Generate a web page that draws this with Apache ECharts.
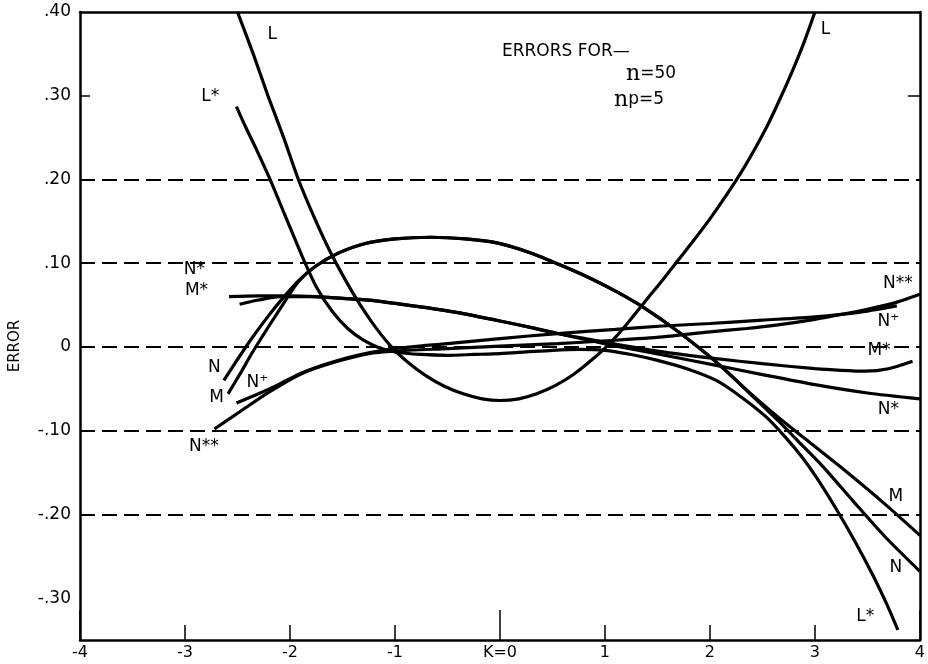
<!DOCTYPE html>
<html>
<head>
<meta charset="utf-8">
<script src="https://cdn.jsdelivr.net/npm/echarts@6/dist/echarts.min.js"></script>
<style>
html,body{margin:0;padding:0;background:#fff;}
#c{width:928px;height:664px;}
</style>
</head>
<body>
<div id="c"></div>
<script>
// ---- axis ticks / labels ----
const xTickValues = [-4, -3, -2, -1, 0, 1, 2, 3, 4];
const xTickLabels = ['-4', '-3', '-2', '-1', 'K=0', '1', '2', '3', '4'];
const yTickValues = [-0.3, -0.2, -0.1, 0, 0.1, 0.2, 0.3, 0.4];
const yTickLabels = ['-.30', '-.20', '-.10', '0', '.10', '.20', '.30', '.40'];
const dashedLevels = [0.2, 0.1, 0, -0.1, -0.2];

// ---- curves [K, error] ----
const curveL = [[-2.50,0.40],[-2.35,0.350],[-2.21,0.30],[-2.06,0.250],[-1.92,0.20],[-1.77,0.155],[-1.63,0.117],[-1.49,0.084],[-1.35,0.054],[-1.20,0.026],[-1.04,0.001],[-0.88,-0.018],[-0.71,-0.034],[-0.53,-0.047],[-0.35,-0.056],[-0.17,-0.062],[0.0,-0.064],[0.18,-0.062],[0.35,-0.056],[0.53,-0.046],[0.71,-0.032],[0.87,-0.016],[1.02,0.001],[1.20,0.026],[1.40,0.057],[1.55,0.080],[1.70,0.104],[1.85,0.128],[2.0,0.153],[2.15,0.180],[2.3,0.209],[2.43,0.237],[2.55,0.265],[2.67,0.297],[2.79,0.331],[2.90,0.365],[3.0,0.40]];
const curveLstar = [[-2.51,0.287],[-2.42,0.262],[-2.32,0.236],[-2.20,0.203],[-2.05,0.158],[-1.89,0.110],[-1.75,0.072],[-1.60,0.043],[-1.45,0.022],[-1.30,0.008],[-1.15,-0.001],[-1.0,-0.006],[-0.75,-0.009],[-0.5,-0.010],[-0.25,-0.009],[0,-0.008],[0.25,-0.006],[0.5,-0.004],[0.75,-0.003],[1.0,-0.004],[1.25,-0.009],[1.5,-0.016],[1.78,-0.026],[2.06,-0.040],[2.30,-0.060],[2.53,-0.083],[2.72,-0.108],[2.88,-0.132],[3.01,-0.155],[3.20,-0.193],[3.38,-0.232],[3.55,-0.272],[3.68,-0.306],[3.79,-0.338]];
const curveN = [[-2.63,-0.040],[-2.5,-0.015],[-2.36,0.011],[-2.2,0.038],[-2.05,0.061],[-1.92,0.079],[-1.75,0.097],[-1.54,0.112],[-1.3,0.123],[-1.0,0.129],[-0.66,0.131],[-0.33,0.129],[-0.02,0.124],[0.3,0.112],[0.61,0.096],[0.86,0.082],[1.11,0.066],[1.37,0.047],[1.68,0.020],[2.06,-0.018],[2.4,-0.058],[2.65,-0.088],[2.82,-0.110],[3.07,-0.142],[3.37,-0.185],[3.67,-0.227],[4.0,-0.268]];
const curveM = [[-2.59,-0.056],[-2.47,-0.031],[-2.36,-0.007],[-2.2,0.025],[-2.05,0.054],[-1.92,0.078],[-1.75,0.097],[-1.54,0.112],[-1.3,0.123],[-1.0,0.129],[-0.66,0.131],[-0.33,0.129],[-0.02,0.124],[0.3,0.112],[0.61,0.096],[0.86,0.082],[1.11,0.066],[1.37,0.047],[1.68,0.020],[2.06,-0.018],[2.4,-0.057],[2.65,-0.084],[2.91,-0.110],[3.26,-0.145],[3.67,-0.188],[4.0,-0.225]];
const curveNstar = [[-2.58,0.060],[-2.3,0.061],[-2.0,0.061],[-1.75,0.060],[-1.5,0.058],[-1.25,0.056],[-1.0,0.052],[-0.7,0.047],[-0.4,0.041],[0.0,0.031],[0.3,0.023],[0.55,0.016],[0.85,0.008],[1.11,0.001],[1.49,-0.008],[2.06,-0.022],[2.5,-0.033],[3.0,-0.045],[3.5,-0.055],[4.0,-0.062]];
const curveMstar = [[-2.48,0.051],[-2.3,0.056],[-2.1,0.060],[-1.8,0.060],[-1.5,0.058],[-1.25,0.056],[-1.0,0.052],[-0.7,0.047],[-0.4,0.041],[0.0,0.031],[0.3,0.023],[0.55,0.016],[0.85,0.009],[1.11,0.003],[1.5,-0.005],[2.06,-0.014],[2.5,-0.020],[3.0,-0.026],[3.25,-0.028],[3.48,-0.029],[3.7,-0.026],[3.93,-0.017]];
const curveNplus = [[-2.51,-0.067],[-2.3,-0.056],[-2.11,-0.045],[-1.89,-0.031],[-1.57,-0.017],[-1.25,-0.007],[-1.0,-0.002],[-0.5,0.004],[0.0,0.010],[0.55,0.016],[1.1,0.021],[1.55,0.025],[2.0,0.028],[2.5,0.032],[3.0,0.036],[3.4,0.041],[3.78,0.049]];
const curveN2star = [[-2.72,-0.098],[-2.45,-0.075],[-2.2,-0.054],[-1.89,-0.032],[-1.57,-0.018],[-1.25,-0.008],[-1.0,-0.005],[-0.5,-0.002],[0,0.001],[0.55,0.004],[1.1,0.008],[1.55,0.012],[2.0,0.018],[2.35,0.022],[2.63,0.026],[3.0,0.033],[3.26,0.039],[3.5,0.045],[3.74,0.052],[4.0,0.063]];

// ---- curve name labels: [K, error, text] ----
const curveLabels = [
  [-2.17, 0.373, 'L'], [3.10, 0.379, 'L'], [-2.76, 0.299, 'L*'],
  [-2.91, 0.092, 'N*'], [-2.89, 0.067, 'M*'], [-2.72, -0.025, 'N'],
  [-2.70, -0.060, 'M'], [-2.31, -0.042, 'N\u207A'], [-2.82, -0.119, 'N**'],
  [3.79, 0.076, 'N**'], [3.70, 0.030, 'N\u207A'], [3.61, -0.004, 'M*'],
  [3.70, -0.075, 'N*'], [3.77, -0.179, 'M'], [3.77, -0.263, 'N'], [3.48, -0.322, 'L*']
];

const FONT = 'DejaVu Sans';
const chart = echarts.init(document.getElementById('c'), null, {renderer: 'canvas'});

function curve(data) {
  return {
    type: 'line', data: data, smooth: 0.25, showSymbol: false, symbol: 'none',
    clip: true, silent: true,
    lineStyle: {color: '#000', width: 3.2}, z: 5
  };
}

const series = [
  curve(curveL), curve(curveLstar), curve(curveN), curve(curveM),
  curve(curveNstar), curve(curveMstar), curve(curveNplus), curve(curveN2star),
  {
    type: 'line', data: [], silent: true,
    markLine: {
      silent: true, symbol: 'none', label: {show: false},
      lineStyle: {color: '#000', width: 2, type: [15, 7]},
      data: dashedLevels.map(v => ({yAxis: v}))
    }
  },
  {
    type: 'scatter', symbolSize: 0, silent: true, z: 10,
    data: curveLabels.map(l => ({value: [l[0], l[1]], name: l[2]})),
    itemStyle: {color: '#000', opacity: 1},
    label: {
      show: true, position: 'inside', formatter: p => p.name,
      color: '#000', textBorderWidth: 0, fontFamily: FONT, fontSize: 17
    }
  }
];

const axisLineStyle = {color: '#000', width: 2.5};

const option = {
  animation: false,
  backgroundColor: '#fff',
  grid: {left: 80, right: 3, top: 12, bottom: 24, containLabel: false},
  xAxis: [
    {
      type: 'value', min: -4, max: 4, interval: 1, position: 'bottom',
      axisLine: {show: true, onZero: false, lineStyle: axisLineStyle},
      axisTick: {show: true, inside: true, length: 15, lineStyle: {color: '#000', width: 1.5}},
      axisLabel: {
        color: '#000', fontFamily: FONT, fontSize: 16, margin: 5,
        formatter: v => { const i = xTickValues.indexOf(Math.round(v)); return i >= 0 ? xTickLabels[i] : ''; }
      },
      splitLine: {show: false}
    },
    {
      type: 'value', min: -4, max: 4, position: 'top',
      axisLine: {show: true, onZero: false, lineStyle: axisLineStyle},
      axisTick: {show: false}, axisLabel: {show: false}, splitLine: {show: false}
    },
    {
      type: 'value', min: -4, max: 4, interval: 4, position: 'bottom',
      axisLine: {show: false, onZero: false},
      axisTick: {show: true, inside: true, length: 30, lineStyle: {color: '#000', width: 1.5}},
      axisLabel: {show: false}, splitLine: {show: false}
    }
  ],
  yAxis: [
    {
      type: 'value', min: -0.35, max: 0.40, position: 'left',
      axisLine: {show: true, onZero: false, lineStyle: axisLineStyle},
      axisTick: {show: true, inside: true, length: 10, customValues: [0.3], lineStyle: {color: '#000', width: 1.5}},
      axisLabel: {
        color: '#000', fontFamily: FONT, fontSize: 17, margin: 9,
        customValues: yTickValues,
        formatter: v => {
          let best = -1, d = 1e9;
          yTickValues.forEach((t, i) => { if (Math.abs(t - v) < d) { d = Math.abs(t - v); best = i; } });
          return d < 1e-6 ? yTickLabels[best] : '';
        }
      },
      splitLine: {show: false}
    },
    {
      type: 'value', min: -0.35, max: 0.40, position: 'right',
      axisLine: {show: true, onZero: false, lineStyle: axisLineStyle},
      axisTick: {show: true, inside: true, length: 12, customValues: [0.3], lineStyle: {color: '#000', width: 1.5}},
      axisLabel: {show: false}, splitLine: {show: false}
    }
  ],
  graphic: [
    {type: 'text', x: 15, y: 346, rotation: Math.PI / 2, style: {
      text: 'ERROR', fill: '#000', font: '15px "DejaVu Sans"', align: 'center', verticalAlign: 'middle'
    }},
    {type: 'text', left: 502, top: 43, style: {text: 'ERRORS FOR\u2014', fill: '#000', font: '17px "DejaVu Sans"'}},
    {type: 'text', left: 626, top: 63, style: {
      text: '{n|n}{t|=50}', fill: '#000',
      rich: {n: {fontFamily: 'DejaVu Serif', fontSize: 22, fill: '#000'}, t: {fontFamily: FONT, fontSize: 17, fill: '#000'}}
    }},
    {type: 'text', left: 614, top: 89, style: {
      text: '{n|n}{t|p=5}', fill: '#000',
      rich: {n: {fontFamily: 'DejaVu Serif', fontSize: 22, fill: '#000'}, t: {fontFamily: FONT, fontSize: 17, fill: '#000'}}
    }}
  ],
  series: series
};
chart.setOption(option);
</script>
</body>
</html>
